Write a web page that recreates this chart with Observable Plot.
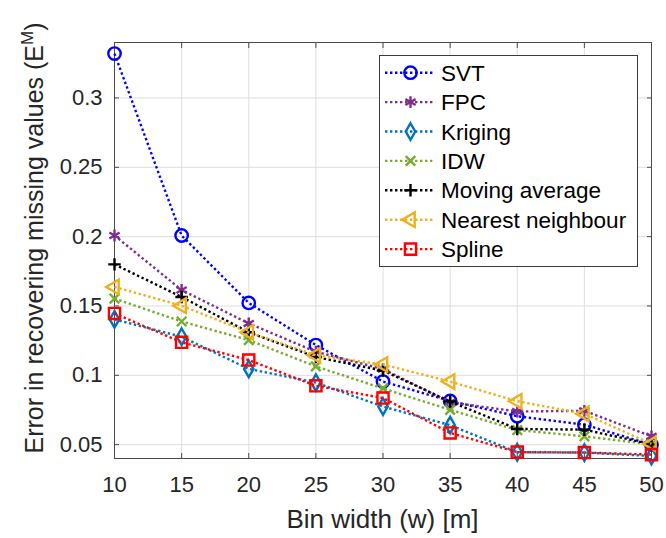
<!DOCTYPE html>
<html>
<head>
<meta charset="utf-8">
<script src="https://cdn.jsdelivr.net/npm/d3@7"></script>
<script src="https://cdn.jsdelivr.net/npm/@observablehq/plot@0.6"></script>
<style>
  body { margin: 0; background: #fff; }
  #chart { width: 666px; height: 538px; }
</style>
</head>
<body>
<div id="chart"></div>
<script>
// Bin widths (m) and reconstruction error per method
const binWidth = [10, 15, 20, 25, 30, 35, 40, 45, 50];
const svt              = [0.332, 0.2008, 0.1522, 0.1218, 0.0955, 0.0815, 0.0705, 0.0644, 0.0500];
const fpc              = [0.2008, 0.1615, 0.1374, 0.1170, 0.1045, 0.0805, 0.0739, 0.0744, 0.0560];
const kriging          = [0.1403, 0.1278, 0.1046, 0.0947, 0.0775, 0.0640, 0.0445, 0.0443, 0.0418];
const idw              = [0.1553, 0.1388, 0.1254, 0.1064, 0.0905, 0.0751, 0.0605, 0.0560, 0.0502];
const movingAverage    = [0.1800, 0.1565, 0.1310, 0.1132, 0.1034, 0.0811, 0.0613, 0.0608, 0.0502];
const nearestNeighbour = [0.1637, 0.1502, 0.1310, 0.1144, 0.1078, 0.0955, 0.0813, 0.0722, 0.0505];
const spline           = [0.1446, 0.1238, 0.1110, 0.0924, 0.0836, 0.0584, 0.0446, 0.0443, 0.0428];

const seriesNames = ["SVT", "FPC", "Kriging", "IDW", "Moving average", "Nearest neighbour", "Spline"];
const seriesValues = [svt, fpc, kriging, idw, movingAverage, nearestNeighbour, spline];

const xTicks = [10, 15, 20, 25, 30, 35, 40, 45, 50];
const yTicks = [0.05, 0.1, 0.15, 0.2, 0.25, 0.3];
const yTickLabels = ["0.05", "0.1", "0.15", "0.2", "0.25", "0.3"];

// Line colour, marker shape and marker radius for each method
const styles = [
  {color: "#0000ff", symbol: "circle",   r: 6.2, rotate: 0},
  {color: "#7e2f8e", symbol: "asterisk", r: 5.6, rotate: 0},
  {color: "#0072bd", symbol: "diamond",  r: 5,   rotate: 0},
  {color: "#77ac30", symbol: "times",    r: 4.4, rotate: 0},
  {color: "#000000", symbol: "plus",     r: 4.1, rotate: 0},
  {color: "#edb120", symbol: "triangle", r: 5.4, rotate: -90},
  {color: "#ff0000", symbol: "square",   r: 6.3, rotate: 0}
];

const series = seriesNames.map((name, k) => ({
  name,
  ...styles[k],
  data: binWidth.map((w, i) => ({w, v: seriesValues[k][i]}))
}));

const font = "'Liberation Sans', Arial, Helvetica, sans-serif";
const ink = "#262626";
const axisColor = "#4a4a4a";
const lineWidth = 2.4;
const dots = "2.4,2.6";

const seriesMarks = series.flatMap(s => [
  Plot.line(s.data, {x: "w", y: "v", stroke: s.color, strokeWidth: lineWidth,
    strokeDasharray: dots, strokeLinecap: "butt"}),
  Plot.dot(s.data, {x: "w", y: "v", symbol: s.symbol, r: s.r, rotate: s.rotate,
    stroke: s.color, strokeWidth: lineWidth, fill: "none"})
]);

const chart = Plot.plot({
  width: 666,
  height: 538,
  marginLeft: 114,
  marginRight: 15,
  marginTop: 42,
  marginBottom: 80,
  style: {fontSize: "22px", fontFamily: font, background: "#fff", color: ink, overflow: "visible"},
  x: {domain: [10, 50]},
  y: {domain: [0.04, 0.34]},
  marks: [
    Plot.gridX(xTicks, {stroke: "#dedede", strokeOpacity: 1}),
    Plot.gridY(yTicks, {stroke: "#dedede", strokeOpacity: 1}),
    Plot.frame({stroke: axisColor}),
    Plot.axisX(xTicks, {anchor: "bottom", tickSize: -5, tickPadding: 23, stroke: axisColor,
      fill: ink, label: null, tickFormat: d => String(d)}),
    Plot.axisX(xTicks, {anchor: "top", tickSize: -5, stroke: axisColor, label: null, tickFormat: () => ""}),
    Plot.axisY(yTicks, {anchor: "left", tickSize: -5, tickPadding: 17, stroke: axisColor,
      fill: ink, label: null, tickFormat: (d, i) => yTickLabels[i]}),
    Plot.axisY(yTicks, {anchor: "right", tickSize: -5, stroke: axisColor, label: null, tickFormat: () => ""}),
    ...seriesMarks
  ]
});

document.getElementById("chart").appendChild(chart);

const svg = d3.select(chart);

// Axis titles
svg.append("text")
  .attr("x", 382.5).attr("y", 528)
  .attr("text-anchor", "middle")
  .attr("font-family", font).attr("font-size", 26).attr("fill", ink)
  .text("Bin width (w) [m]");

const yTitle = svg.append("text")
  .attr("transform", "translate(43,238) rotate(-90)")
  .attr("text-anchor", "middle")
  .attr("font-family", font).attr("font-size", 25).attr("fill", ink);
yTitle.append("tspan").text("Error in recovering missing values (E");
yTitle.append("tspan").attr("dy", -10).attr("font-size", 17).text("M");
yTitle.append("tspan").attr("dy", 10).text(")");

// Legend
const symbolTypes = {
  circle: d3.symbolCircle, asterisk: d3.symbolAsterisk, diamond: d3.symbolDiamond,
  times: d3.symbolTimes, plus: d3.symbolPlus, triangle: d3.symbolTriangle, square: d3.symbolSquare
};
const legend = svg.append("g");
legend.append("rect")
  .attr("x", 379.5).attr("y", 55.5).attr("width", 258).attr("height", 211)
  .attr("fill", "#fff").attr("stroke", "#3c3c3c").attr("stroke-width", 1);
series.forEach((s, k) => {
  const cy = 72.7 + k * 29.4;
  const row = legend.append("g");
  row.append("line")
    .attr("x1", 385).attr("x2", 434).attr("y1", cy).attr("y2", cy)
    .attr("stroke", s.color).attr("stroke-width", lineWidth).attr("stroke-dasharray", dots);
  row.append("path")
    .attr("d", d3.symbol(symbolTypes[s.symbol], Math.PI * s.r * s.r)())
    .attr("transform", `translate(410.5,${cy}) rotate(${s.rotate})`)
    .attr("fill", "none").attr("stroke", s.color).attr("stroke-width", lineWidth);
  row.append("text")
    .attr("x", 441).attr("y", cy).attr("dy", "0.36em")
    .attr("text-anchor", "start")
    .attr("font-family", font).attr("font-size", 22.5).attr("fill", "#000")
    .text(s.name);
});
</script>
</body>
</html>
